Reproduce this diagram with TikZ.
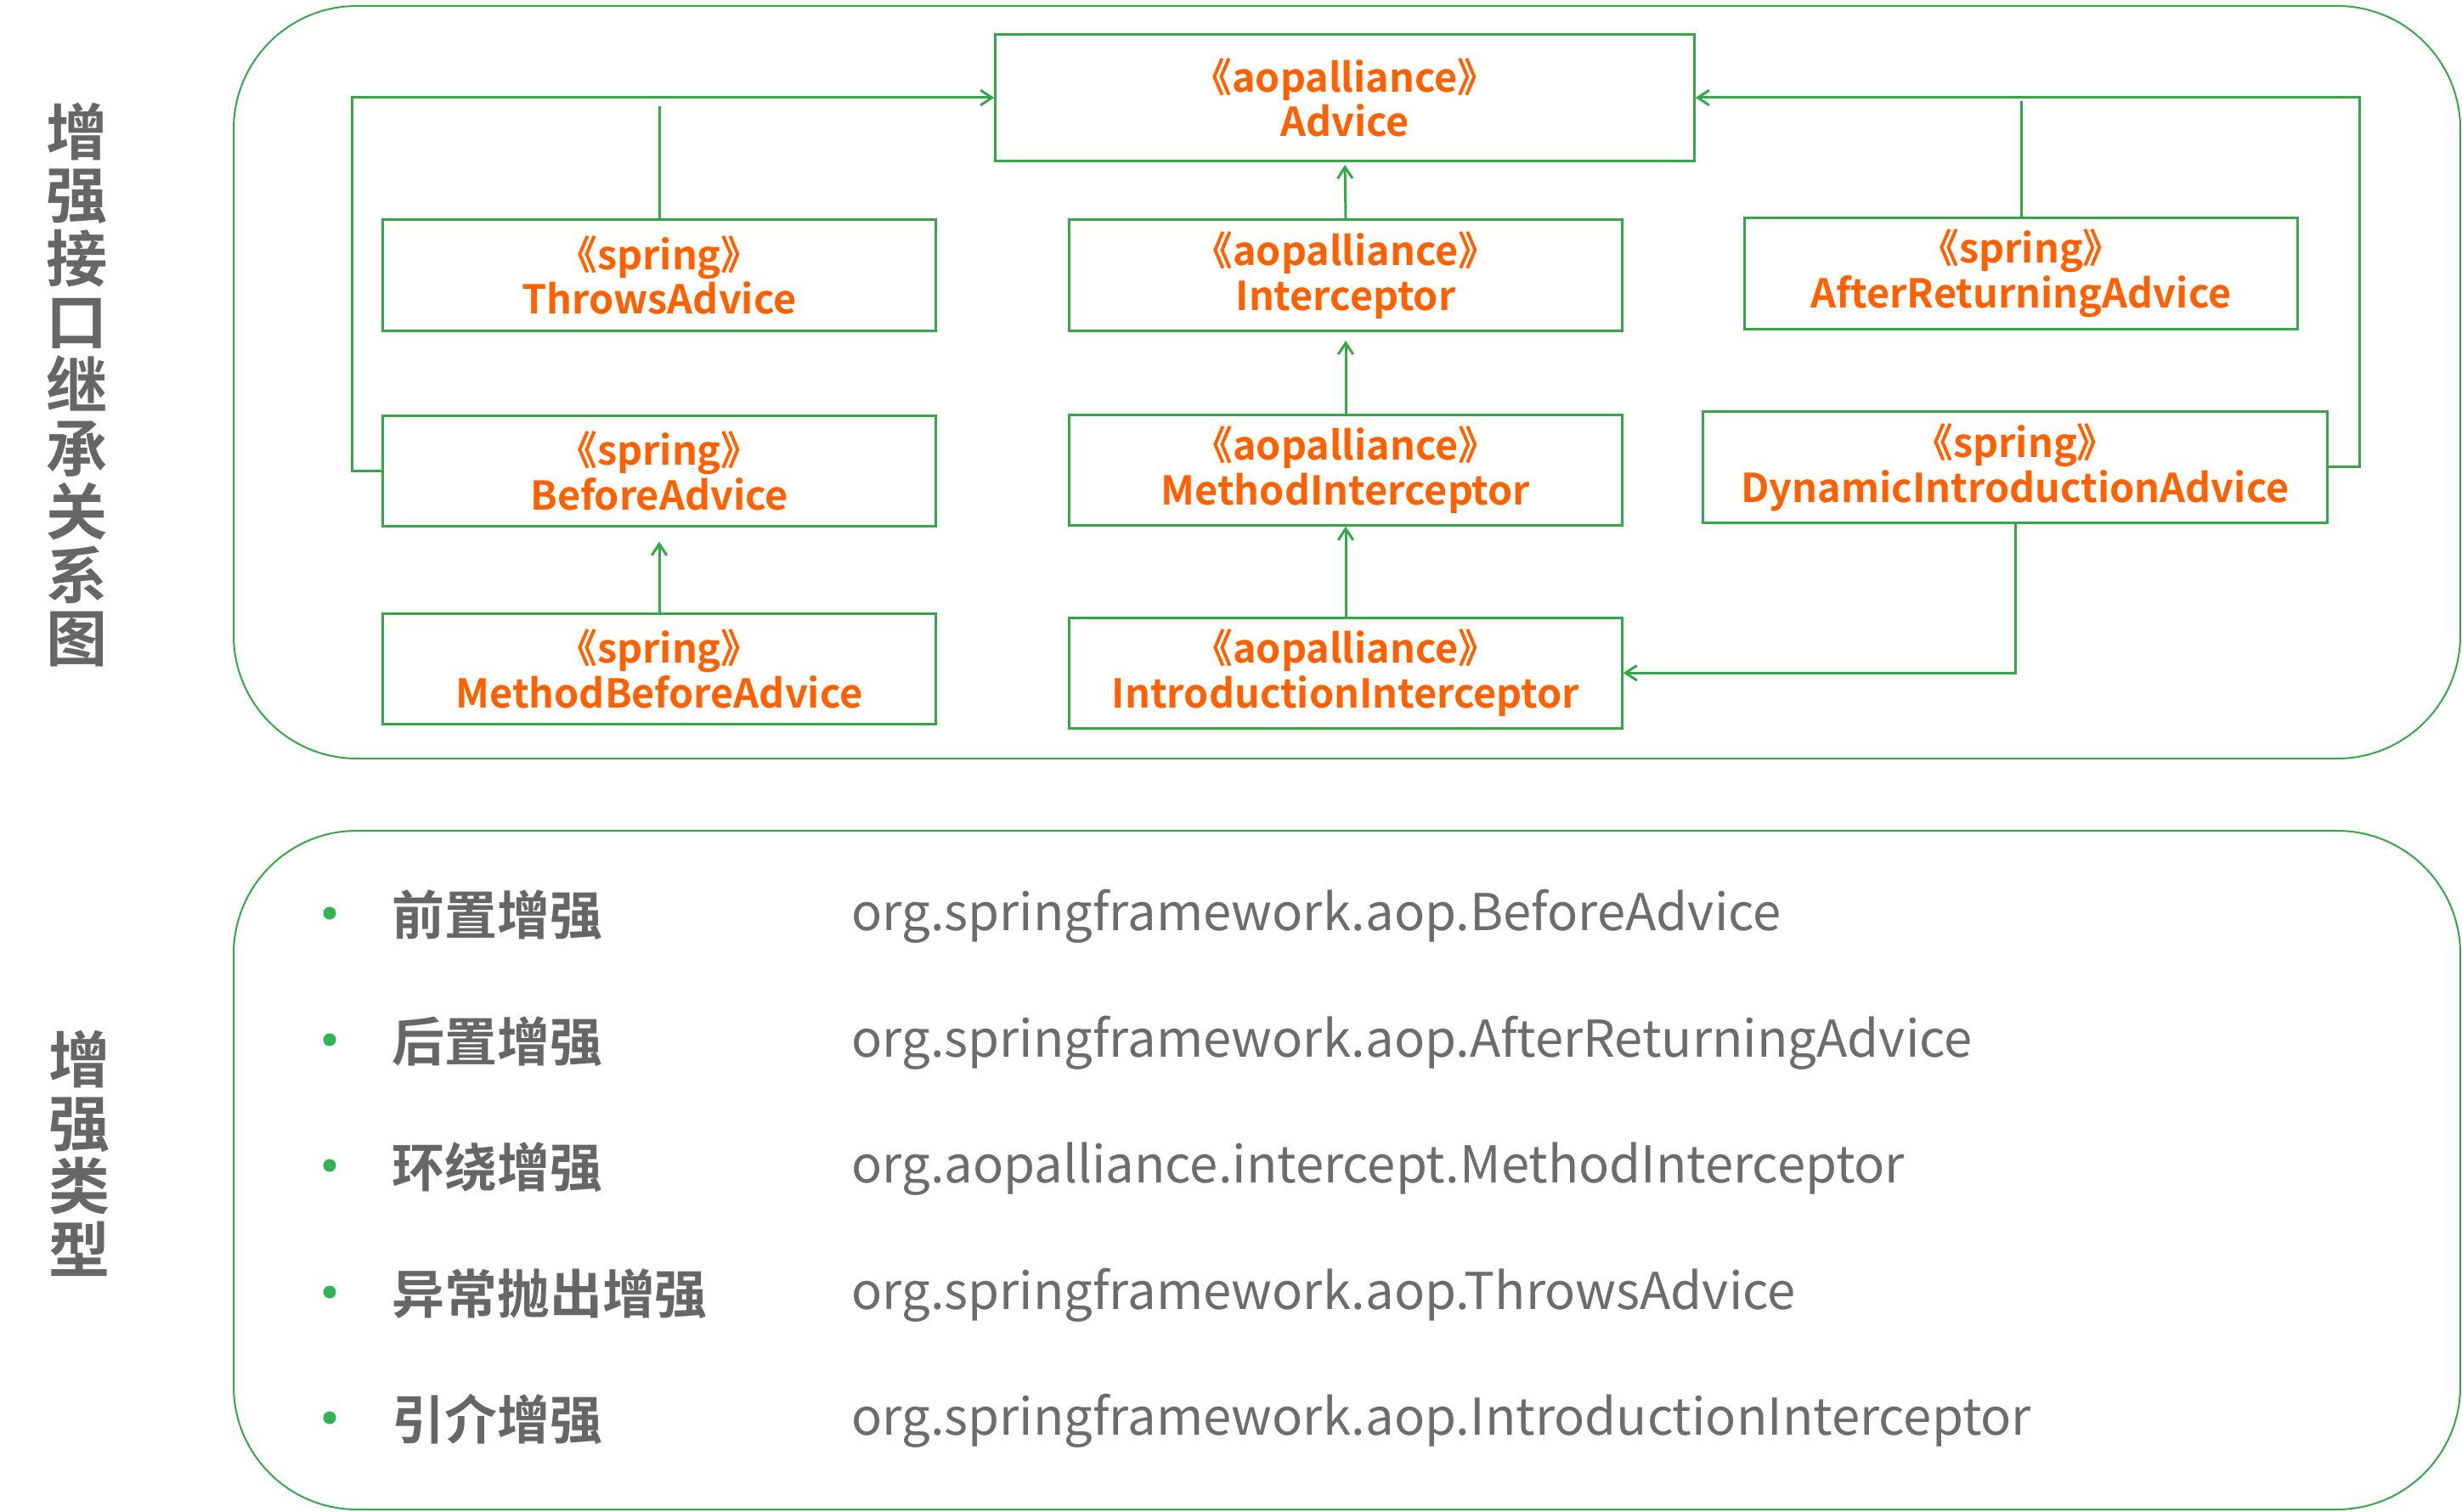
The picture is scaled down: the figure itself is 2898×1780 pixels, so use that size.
\documentclass[tikz,border=0pt]{standalone}
\usepackage{fontspec}
\setmainfont{Noto Sans CJK SC}[BoldFont={Noto Sans CJK SC Bold}]
\usetikzlibrary{arrows.meta,positioning}

\definecolor{linegreen}{RGB}{52,168,72}
\definecolor{dotgreen}{RGB}{50,180,84}
\definecolor{advorange}{RGB}{255,96,0}
\definecolor{labelgrey}{RGB}{102,102,102}
\definecolor{pkggrey}{RGB}{108,108,108}

\begin{document}
\begin{tikzpicture}[x=0.01cm,y=-0.01cm,line width=0.85pt,node distance=0.97cm,
    >={Straight Barb[length=3.8pt,width=5pt]}]
    \tikzstyle{cls}=[draw=linegreen,minimum width=6.5cm,minimum height=1.3cm,inner sep=0pt,
        align=center,text=advorange,font=\fontsize{13.3pt}{15pt}\selectfont\bfseries]
    \tikzstyle{title}=[text=labelgrey,align=center,inner sep=0pt,
        font=\fontsize{20.5pt}{21.2pt}\selectfont\bfseries]
    \tikzstyle{kind}=[text=labelgrey,anchor=base west,inner sep=0pt,
        font=\fontsize{17.6pt}{20pt}\selectfont\bfseries]
    \tikzstyle{pkg}=[text=pkggrey,anchor=base west,inner sep=0pt,
        font=\fontsize{17pt}{20pt}\selectfont]
    \tikzstyle{dot}=[circle,fill=dotgreen,inner sep=0pt,minimum size=0.15cm]
    \tikzstyle{frame}=[draw=linegreen,line width=0.57pt,rounded corners=1.45cm]

    \useasboundingbox (0,0) rectangle (2898,1780);
    \draw[frame] (275,7) rectangle (2896,893);
    \draw[frame] (275,978) rectangle (2896,1777);

    \node[title] (relation) at (91,453) {增\\强\\接\\口\\继\\承\\关\\系\\图};
    \node[title] (types) at (94,1358) {增\\强\\类\\型};

    \node[cls,minimum width=8.22cm,minimum height=1.48cm] (advice) at (1583,115) {《aopalliance》\\Advice};
    \node[cls] (throws) at (776,324) {《spring》\\ThrowsAdvice};
    \node[cls] (before) [below=of throws] {《spring》\\BeforeAdvice};
    \node[cls] (methodbefore) [below=1cm of before] {《spring》\\MethodBeforeAdvice};
    \node[cls] (interceptor) at (1584,324) {《aopalliance》\\Interceptor};
    \node[cls] (methodint) [below=0.96cm of interceptor] {《aopalliance》\\MethodInterceptor};
    \node[cls] (introint) [below=1.06cm of methodint] {《aopalliance》\\IntroductionInterceptor};
    \node[cls] (afterret) at (2379,322) {《spring》\\AfterReturningAdvice};
    \node[cls,minimum width=7.34cm] (dynintro) at (2372,550) {《spring》\\DynamicIntroductionAdvice};

    \coordinate (leftrail) at (414,115);
    \coordinate (rightrail) at (2777,115);
    \coordinate (throwsend) at (776,125);
    \coordinate (afterend) at (2379,119);

    \draw[linegreen,->] (before.west) -| (leftrail) -- (advice.west);
    \draw[linegreen,->] (dynintro.east) -| (rightrail) -- (advice.east);
    \draw[linegreen,->] (dynintro.south) |- (introint.east);
    \draw[linegreen] (throws.north) -- (throwsend);
    \draw[linegreen] (afterret.north) -- (afterend);
    \path[linegreen,->]
    (methodbefore.north) edge [shorten >=17pt*0.2845] (before.south)
    (interceptor.north) edge [shorten >=1pt] (advice.south)
    (methodint.north) edge [shorten >=3pt] (interceptor.south)
    (introint.north) edge (methodint.south);

    \node[dot] (dot1) at (388,1075) {};
    \node[dot] (dot2) at (388,1224) {};
    \node[dot] (dot3) at (388,1372) {};
    \node[dot] (dot4) at (388,1521) {};
    \node[dot] (dot5) at (388,1669) {};

    \node[kind] (before kind) at (460,1100) {前置增强};
    \node[kind] (after kind) at (460,1249) {后置增强};
    \node[kind] (around kind) at (460,1397) {环绕增强};
    \node[kind] (throws kind) at (460,1546) {异常抛出增强};
    \node[kind] (intro kind) at (460,1694) {引介增强};

    \node[pkg] (before pkg) at (1001,1095) {org.springframework.aop.BeforeAdvice};
    \node[pkg] (after pkg) at (1001,1244) {org.springframework.aop.AfterReturningAdvice};
    \node[pkg] (around pkg) at (1001,1392) {org.aopalliance.intercept.MethodInterceptor};
    \node[pkg] (throws pkg) at (1001,1541) {org.springframework.aop.ThrowsAdvice};
    \node[pkg] (intro pkg) at (1001,1689) {org.springframework.aop.IntroductionInterceptor};
\end{tikzpicture}
\end{document}
